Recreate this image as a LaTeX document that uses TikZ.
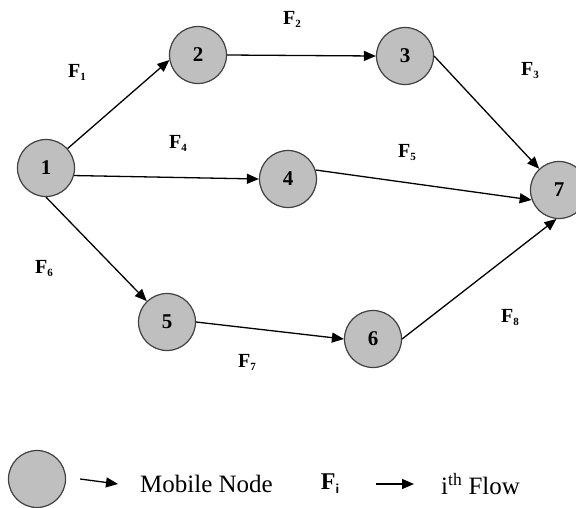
\documentclass[tikz,border=0pt]{standalone}
\usepackage{fontspec}
\setmainfont{Liberation Serif}
\usetikzlibrary{arrows.meta,positioning}
\tikzset{
  mnode/.style={circle, draw=black!75, line width=1.2pt, fill=black!25, minimum size=57pt, inner sep=0pt, font=\fontsize{21}{24}\selectfont\bfseries},
  flow/.style={-{Triangle[length=12pt,width=10pt]}, line width=1.3pt},
  flabel/.style={font=\fontsize{20}{24}\selectfont\bfseries, inner sep=0pt},
  legtext/.style={font=\fontsize{25}{28}\selectfont, inner sep=0pt}
}
\newcommand{\fsub}[1]{F\raisebox{-3pt}{\fontsize{11}{12}\selectfont #1}}

\begin{document}
\begin{tikzpicture}[x=1pt,y=-1pt]
\useasboundingbox (0,0) rectangle (576,507);
\clip (0,0) rectangle (576,507);

% Mobile nodes
\node[mnode] (n1) at (46,168) {1};
\node[mnode] (n2) at (198,55) {2};
\node[mnode] (n3) at (405,56) {3};
\node[mnode] (n4) at (288,179) {4};
\node[mnode] (n5) at (167,322) {5};
\node[mnode] (n6) at (373,339) {6};
\node[mnode] (n7) at (559,190) {7};

% Flows
\draw[flow] (n1.42) -- (n2.190);
\draw[flow] (n2.east) -- (n3.west);
\draw[flow] (n3.east) -- (n7);
\draw[flow] (n1.-15) -- (n4.west);
\draw[flow] (n4.18) -- (n7.200);
\draw[flow] (n1.south) -- (n5);
\draw[flow] (n5.east) -- (n6.west);
\draw[flow] (n6.east) -- (n7.-95);

% Flow labels
\node[flabel] (f1) at (77,72) {\fsub{1}};
\node[flabel] (f2) at (292,19) {\fsub{2}};
\node[flabel] (f3) at (530,71) {\fsub{3}};
\node[flabel] (f4) at (178,143) {\fsub{4}};
\node[flabel] (f5) at (407,153) {\fsub{5}};
\node[flabel] (f6) at (44,268) {\fsub{6}};
\node[flabel] (f7) at (247,362) {\fsub{7}};
\node[flabel] (f8) at (510,317) {\fsub{8}};

% Legend
\node[mnode] (legnode) at (37,479) {};
\node[legtext, anchor=west] (legmobile) at (140,484) {Mobile Node};
\node[legtext, font=\fontsize{24}{28}\selectfont\bfseries] (legf) at (330,484) {F\raisebox{-4pt}{\fontsize{14}{16}\selectfont\sffamily i}};
\node[legtext, anchor=west] (legflow) at (441,484) {i\textsuperscript{th} Flow};
\draw[flow] ([xshift=14pt]legnode.east) -- ([xshift=-22pt]legmobile.west);
\draw[flow] ([xshift=-65pt]legflow.west) -- ([xshift=-27pt]legflow.west);

\end{tikzpicture}
\end{document}
